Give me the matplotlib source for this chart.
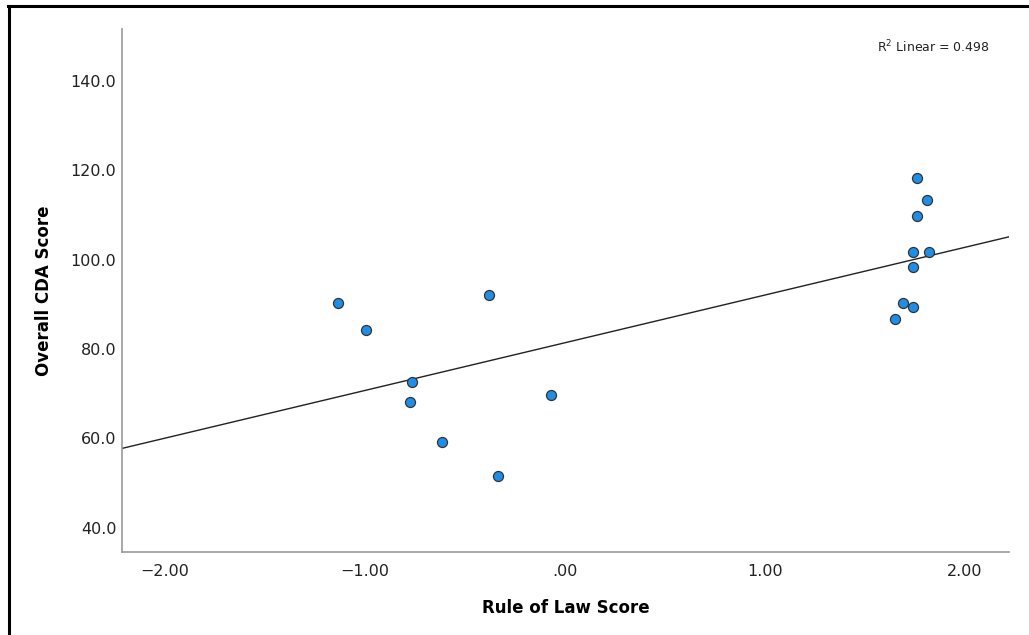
import numpy as np
import matplotlib.pyplot as plt
from matplotlib.lines import Line2D

# Rule of Law score vs Overall CDA score
rule_of_law = [-1.137, -0.995, -0.378, -0.765, -0.777, -0.068, -0.617, -0.337,
               1.758, 1.808, 1.758, 1.738, 1.820, 1.738, 1.688, 1.738, 1.648]
cda_score = [90.2, 84.2, 92.2, 72.7, 68.1, 69.7, 59.2, 51.6,
             118.3, 113.3, 109.8, 101.8, 101.8, 98.3, 90.2, 89.3, 86.7]
x_ticks = [-2.0, -1.0, 0.0, 1.0, 2.0]
x_labels = ['\u22122.00', '\u22121.00', '.00', '1.00', '2.00']
y_ticks = [40, 60, 80, 100, 120, 140]
y_labels = ['40.0', '60.0', '80.0', '100.0', '120.0', '140.0']
r2_text = 'R$^2$ Linear = 0.498'

plt.rcParams['font.family'] = ['DejaVu Sans']

fig = plt.figure(figsize=(10.29, 6.35), dpi=100)
ax = fig.add_axes([122 / 1029, 1 - 552 / 635, (1009 - 122) / 1029, (552 - 29) / 635])

X = np.array(rule_of_law)
Y = np.array(cda_score)
slope, intercept = np.polyfit(X, Y, 1)

xlim = (-2.215, 2.22)
ylim = (34.6, 151.6)
xs = np.array(xlim)
ax.plot(xs, intercept + slope * xs, color='#222222', lw=1.0, zorder=2)
ax.scatter(X, Y, s=52, facecolor='#1f8ee6', edgecolor='#333333', linewidth=0.9, zorder=3)

ax.set_xlim(*xlim)
ax.set_ylim(*ylim)
ax.set_xticks(x_ticks)
ax.set_xticklabels(x_labels)
ax.set_yticks(y_ticks)
ax.set_yticklabels(y_labels)
ax.tick_params(length=0, labelsize=11.5, colors='#222222')
ax.tick_params(axis='x', pad=9)
ax.tick_params(axis='y', pad=4)
for s in ['top', 'right']:
    ax.spines[s].set_visible(False)
for s in ['left', 'bottom']:
    ax.spines[s].set_color('#999999')
    ax.spines[s].set_linewidth(1.2)

ax.set_xlabel('Rule of Law Score', fontsize=12, fontweight='bold', labelpad=14)
ax.set_ylabel('Overall CDA Score', fontsize=12, fontweight='bold', labelpad=13)

ax.text(0.9785, 0.965, r2_text, transform=ax.transAxes, ha='right', va='center',
        fontsize=9, color='#222222')

# outer frame (left and top edges)
fig.add_artist(Line2D([9 / 1029, 9 / 1029], [0, 1 - 6 / 635], transform=fig.transFigure,
                      color='black', lw=2.2))
fig.add_artist(Line2D([8 / 1029, 1], [1 - 6 / 635, 1 - 6 / 635], transform=fig.transFigure,
                      color='black', lw=2.2))

fig.savefig('out.png', dpi=100)
